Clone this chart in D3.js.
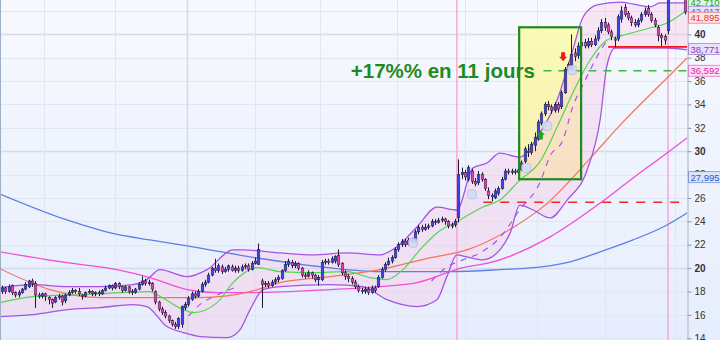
<!DOCTYPE html>
<html><head><meta charset="utf-8">
<script src="https://cdn.jsdelivr.net/npm/d3@7/dist/d3.min.js"></script>
<style>html,body{margin:0;padding:0;background:#fff;}svg{display:block}</style>
</head><body>
<svg id="chart" width="720" height="340"></svg>
<script>
// ---------- DATA ----------
const opens = [18.0,18.3,18.0,18.5,17.9,17.7,17.9,18.2,18.4,18.9,18.7,17.7,17.6,17.8,17.5,17.3,17.1,17.5,17.6,17.2,
17.7,17.9,18.1,18.0,17.7,17.6,17.9,18.0,17.8,17.9,17.8,18.1,18.3,18.5,18.3,18.7,18.4,18.1,18.4,18.0,
17.9,18.2,18.6,18.9,18.7,18.7,18.0,17.1,16.5,16.2,15.9,15.5,15.2,15.0,15.2,16.6,16.9,17.3,17.8,17.6,
18.0,18.6,18.8,19.4,20.0,19.8,20.1,19.7,19.9,20.1,19.8,20.0,19.8,20.1,20.2,19.9,20.4,20.3,18.9,18.6,
18.7,18.5,18.8,19.0,19.1,19.8,20.3,20.5,20.2,20.4,20.0,19.4,19.3,19.6,19.4,19.0,19.0,20.5,20.6,20.5,
20.6,21.1,20.4,19.6,19.3,19.1,18.8,18.4,18.1,18.0,18.2,17.9,18.3,18.4,19.2,19.9,20.3,20.6,20.9,21.6,
22.0,22.3,22.0,22.4,22.3,23.1,23.5,23.3,23.5,23.6,24.0,23.9,24.1,24.2,24.0,23.6,23.7,24.3,28.0,28.2,
27.6,28.3,27.4,27.3,28.0,27.6,26.6,26.2,26.0,26.4,26.8,27.6,28.3,28.2,28.3,28.2,28.4,29.1,30.0,29.9,
30.5,31.0,32.4,33.2,34.0,33.8,33.5,34.0,33.8,35.0,37.4,37.0,38.4,38.2,39.0,39.3,39.0,39.4,39.1,39.6,
40.3,41.0,40.8,40.2,39.6,39.6,41.3,42.3,41.8,41.4,41.0,40.8,41.2,41.7,42.2,41.7,41.2,40.6,39.9,39.8,
40.3,43.3,43.8,44.0,43.7,43.6];
const highs = [18.5,18.4,18.6,18.6,18.0,18.1,18.3,18.8,19.0,19.1,18.9,17.9,17.9,17.9,17.6,17.4,17.6,17.8,17.7,17.8,
18.1,18.3,18.2,18.3,17.8,18.0,18.2,18.1,18.0,18.1,18.2,18.5,18.6,18.6,18.8,18.8,18.5,18.5,18.5,18.2,
18.3,18.8,19.3,19.1,19.0,18.8,18.1,17.2,16.7,16.4,16.0,15.6,15.4,15.8,16.8,17.1,17.6,18.0,18.0,18.2,
18.8,19.0,19.6,20.1,20.8,20.4,20.3,20.1,20.3,20.3,20.2,20.2,20.3,20.4,20.4,20.6,20.9,22.1,19.1,18.9,
18.9,19.0,19.2,19.4,19.9,20.6,20.8,20.7,20.6,20.5,20.1,19.6,19.8,19.7,19.5,19.4,20.7,20.8,20.8,21.0,
21.1,21.6,20.5,19.8,19.5,19.3,19.0,18.6,18.3,18.4,18.4,18.5,18.5,19.4,20.1,20.5,20.9,21.1,21.8,22.2,
22.5,22.5,22.6,22.6,23.3,23.7,23.7,23.8,23.8,24.2,24.2,24.3,24.4,24.3,24.1,23.9,24.2,29.3,28.6,28.4,
28.8,28.5,27.7,28.3,28.2,27.7,26.9,26.4,26.8,27.0,27.8,28.5,28.5,28.5,28.5,28.6,29.2,30.4,30.6,30.8,
31.6,32.7,33.4,34.2,34.3,34.0,34.2,34.2,35.2,37.2,37.6,40.0,38.8,39.3,39.6,39.6,39.7,39.7,39.9,40.6,
41.3,41.4,41.0,40.4,39.8,41.7,42.4,42.6,42.0,41.6,41.3,41.4,41.9,42.3,42.5,41.9,41.4,40.8,40.1,40.0,
44.0,44.2,44.5,44.4,44.1,43.9];
const lows = [17.8,17.8,17.9,17.7,17.5,17.5,17.8,18.1,18.3,18.4,16.6,17.4,17.4,17.2,16.9,16.6,17.0,17.3,16.8,17.0,
17.6,17.8,17.8,17.6,17.3,17.5,17.8,17.6,17.6,17.6,17.7,18.0,18.2,18.1,18.2,18.2,17.9,18.0,17.8,17.7,
17.8,18.1,18.5,18.5,18.5,18.0,16.9,16.3,16.0,15.7,15.3,15.0,14.8,14.8,14.9,16.4,16.7,17.2,17.4,17.5,
17.9,18.4,18.7,19.3,19.6,19.6,19.5,19.6,19.7,19.7,19.6,19.6,19.7,19.9,19.7,19.8,20.3,20.3,16.6,18.4,
18.3,18.4,18.6,18.8,19.0,19.7,20.1,20.0,20.0,19.8,19.2,19.1,19.2,19.1,18.8,18.5,18.9,20.3,20.3,20.4,
20.4,20.1,19.4,19.0,18.8,18.6,18.2,17.9,17.8,17.8,17.7,17.8,17.9,18.3,19.1,19.7,20.2,20.4,20.8,21.4,
21.8,21.8,21.9,22.1,22.2,22.9,23.1,23.2,23.3,23.5,23.7,23.8,23.9,23.7,23.4,23.4,23.5,23.9,27.6,27.5,
27.4,27.2,27.0,27.1,27.4,26.6,25.9,25.7,25.9,26.2,26.7,27.5,28.0,28.0,28.0,28.1,28.3,28.9,29.5,29.7,
30.0,30.9,32.2,33.0,33.5,33.2,33.3,33.3,33.6,34.9,36.8,36.9,37.7,37.9,38.7,38.8,38.8,38.9,39.0,39.4,
40.1,40.3,40.0,39.5,38.9,39.4,41.0,41.5,41.2,40.7,40.6,40.6,41.0,41.5,41.5,41.0,40.6,39.4,39.0,39.1,
40.0,43.1,43.4,43.5,43.3,41.7];
const closes = [18.3,18.0,18.4,17.9,17.7,17.9,18.2,18.6,18.9,18.7,17.7,17.6,17.8,17.6,17.3,17.0,17.5,17.6,17.1,17.7,
17.9,18.1,18.0,17.8,17.6,17.9,18.0,17.8,17.9,17.8,18.1,18.3,18.5,18.3,18.7,18.4,18.1,18.4,18.0,17.9,
18.2,18.6,18.9,18.7,18.8,18.2,17.1,16.5,16.2,15.9,15.5,15.2,15.0,15.7,16.7,16.9,17.4,17.8,17.6,18.0,
18.6,18.8,19.4,20.0,19.8,20.2,19.7,19.9,20.2,19.8,20.0,19.8,20.1,20.2,19.9,20.4,20.6,21.6,18.6,18.7,
18.5,18.8,19.0,19.2,19.8,20.3,20.6,20.2,20.4,20.0,19.4,19.3,19.6,19.4,19.0,19.2,20.5,20.6,20.5,20.8,
21.0,20.3,19.6,19.3,19.1,18.8,18.4,18.1,18.0,18.2,17.9,18.3,18.1,19.2,19.9,20.3,20.6,20.9,21.6,22.0,
22.3,22.0,22.4,22.3,23.1,23.5,23.3,23.5,23.6,24.0,23.9,24.1,24.2,24.0,23.6,23.7,24.0,28.0,28.2,27.8,
28.6,27.4,27.2,28.0,27.6,26.8,26.2,26.1,26.6,26.8,27.6,28.3,28.2,28.3,28.2,28.4,29.0,30.2,29.9,30.6,
31.2,32.5,33.2,34.0,33.8,33.5,34.0,33.6,35.0,37.0,37.0,38.3,38.1,39.0,39.3,39.0,39.4,39.1,39.6,40.3,
41.0,40.6,40.2,39.8,39.5,41.5,42.0,41.7,41.4,41.0,40.8,41.2,41.7,42.0,41.7,41.2,40.8,39.9,39.7,39.5,
43.2,43.8,44.0,43.7,43.6,41.9];

// indicator lines: candle-index positions and values
const ma200Idx = [-0.6,19.5,33.9,44.4,55.6,74.5,95.5,113.5,134.5,149.5,162.5,170.6,179.6,189.5,199.7,205.7];
const ma200Val = [26.34,24.12,22.92,22.41,21.90,20.96,20.12,19.70,19.70,19.87,20.12,20.54,21.39,22.41,23.69,24.71];
const ma100Idx = [-0.6,19.5,34.5,44.4,55.6,64.6,74.5,98.5,113.5,124.6,138.4,146.5,164.6,179.6,189.5,199.7,205.7];
const ma100Val = [21.39,20.46,19.87,19.19,18.16,17.90,17.90,18.16,18.42,18.76,20.04,20.46,22.67,25.56,27.71,29.84,31.13];
const ma50Idx = [-0.6,14.4,29.4,44.4,59.5,74.5,83.5,98.5,113.5,128.5,139.6,154.7,163.1,177.5,185.6,199.7,205.7];
const ma50Val = [19.95,18.16,17.48,17.48,17.48,17.99,18.76,19.27,19.87,20.88,21.56,23.69,25.39,29.67,32.23,36.26,37.97];
const ma20Idx = [-0.6,9.3,24.3,44.4,46.5,54.4,57.4,64.6,69.4,76.6,83.5,93.4,103.6,110.5,115.6,120.4,125.5,130.6,137.5,144.4,149.5,155.5,161.5,166.7,171.4,176.6,181.7,185.6,194.6,199.7,205.7];
const ma20Val = [17.05,17.56,17.73,17.99,17.73,16.45,16.19,17.05,18.76,20.04,19.70,19.62,19.70,19.19,19.02,19.87,21.56,23.00,24.12,25.22,25.82,27.53,29.08,32.07,34.98,37.80,39.51,39.85,40.54,40.97,42.08];
const bbUpIdx = [-0.6,9.3,19.5,29.4,39.3,43.5,47.4,55.6,61.6,69.4,72.4,83.5,93.4,103.6,113.5,118.6,124.6,130.6,136.6,141.4,145.6,149.5,155.5,161.5,166.7,171.4,174.5,178.7,185.6,194.6,197.6,205.7];
const bbUpVal = [18.33,18.59,18.42,18.42,18.59,19.02,19.87,19.27,19.87,21.56,21.56,21.30,21.13,21.30,21.13,21.82,23.52,25.22,24.97,28.56,28.99,29.84,29.50,31.56,34.38,38.66,41.48,42.51,42.76,42.34,42.68,42.68];
const bbLoIdx = [-0.6,9.3,19.5,29.4,39.3,43.5,49.5,54.4,59.5,67.6,71.5,74.5,78.4,83.5,98.5,108.4,115.6,124.6,130.6,133.6,136.6,139.6,144.4,149.5,152.6,155.5,159.5,164.6,169.7,175.7,179.6,181.7,184.1,189.5,199.7,205.7];
const bbLoVal = [15.85,16.02,16.45,16.62,16.88,16.71,15.00,14.49,14.14,14.06,14.74,16.45,18.16,18.42,18.59,18.42,17.30,16.71,17.30,19.27,21.13,20.96,20.71,21.56,23.00,25.39,24.97,24.29,25.82,28.39,32.67,37.37,38.83,38.83,38.83,38.66];
// dashed purple trend segments
const trendAIdx = [56.0,59.5,64.6,70.5];
const trendAVal = [15.9,16.9,17.7,18.4];
const trendBIdx = [129.0,133.6,138.4,143.5,149.5,155.5,161.5,164.6,168.5,171.4,175.0,178.7,181.7];
const trendBVal = [18.9,20.1,20.7,21.3,22.6,25.0,27.3,29.6,31.0,33.8,36.0,38.1,39.5];

const yTicks = [14,16,18,20,22,24,26,28,30,32,34,36,38,40,42];
const yMajor = [20,30,40];
const monthIdx = [12.6,34.0,55.6,76.0,95.5,118.6,139.0,160.7,181.0,202.0];
const eventIdx = [136.6,200.0];

const gainText = "+17%% en 11 jours";
const boxRange = {from:155.3, to:173.9, top:40.6, bottom:27.6};
const greenLevel = 36.88;
const redLevel = 38.92;
const redDashLevel = 25.63;
const newsIdx = [123.4,141.1,157.4,163.7,171.2];
const newsVal = [22.15,26.32,28.56,32.15,36.94];
const upArrow = {i:161.8, v:31.0};
const downArrow = {i:168.5, v:37.7};

const priceTags = [
  {text:"27,995", at:27.78, color:"#2f55d4", fill:"#dce6fb"},
  {text:"36,592", at:36.88, color:"#e020b0", fill:"#fde1f4"},
  {text:"38,771", at:38.74, color:"#7d3fc4", fill:"#e9e1f9"},
  {text:"42,710", at:42.68, color:"#22a022", fill:"#e2f5e2"},
  {text:"42,017", at:41.92, color:"#6a5ad0", fill:"#e6e4fa"},
  {text:"41,895", at:41.42, color:"#e53535", fill:"#fde6e6"}
];

// ---------- CHART ----------
const W = 720, H = 340, plotR = 687;
const svg = d3.select("#chart");
const x = d3.scaleLinear().domain([-0.6, 205.7]).range([0, plotR]);
const y = d3.scaleLinear().domain([13.85, 42.934]).range([H, 0]);
const defs = svg.append("defs");
const bg = defs.append("linearGradient").attr("id","bg").attr("x1",0).attr("y1",0).attr("x2",0).attr("y2",1);
bg.append("stop").attr("offset","0%").attr("stop-color","#f7f9fe");
bg.append("stop").attr("offset","100%").attr("stop-color","#e6edfc");
const yb = defs.append("linearGradient").attr("id","yb").attr("x1",0).attr("y1",0).attr("x2",0).attr("y2",1);
yb.append("stop").attr("offset","0%").attr("stop-color","#fafab8");
yb.append("stop").attr("offset","100%").attr("stop-color","#f8f0b0");
defs.append("clipPath").attr("id","plot").append("rect").attr("x",0).attr("y",0).attr("width",plotR).attr("height",H);

svg.append("rect").attr("width",W).attr("height",H).attr("fill","url(#bg)");

const grid = svg.append("g");
grid.selectAll("line.h").data(yTicks).join("line")
  .attr("x1",0).attr("x2",plotR).attr("y1",d=>Math.round(y(d))+0.5).attr("y2",d=>Math.round(y(d))+0.5)
  .attr("stroke",d=>yMajor.includes(d)?"#d5dbe8":"#e1e6f1").attr("stroke-width",d=>yMajor.includes(d)?1.6:1);
grid.selectAll("line.v").data(monthIdx).join("line")
  .attr("y1",0).attr("y2",H).attr("x1",d=>Math.round(x(d))+0.5).attr("x2",d=>Math.round(x(d))+0.5)
  .attr("stroke",(d,k)=>k===2?"#d3d9e6":"#e2e6f1").attr("stroke-width",(d,k)=>k===2?1.5:1);

const plot = svg.append("g").attr("clip-path","url(#plot)");

// yellow box fill
plot.append("rect").attr("x",x(boxRange.from)).attr("y",y(boxRange.top))
  .attr("width",x(boxRange.to)-x(boxRange.from)).attr("height",y(boxRange.bottom)-y(boxRange.top))
  .attr("fill","url(#yb)");

const lineGen = d3.line().curve(d3.curveMonotoneX);
const pts = (idx, vals) => idx.map((d,k)=>[x(d), y(vals[k])]);

// Bollinger fill
const upPath = lineGen(pts(bbUpIdx,bbUpVal));
const loPath = lineGen(pts(bbLoIdx,bbLoVal).reverse());
plot.append("path").attr("d", upPath + loPath.replace(/^M/,"L") + "Z")
  .attr("fill","#f6c6e6").attr("fill-opacity",0.38);

// event lines
plot.selectAll("line.ev").data(eventIdx).join("line")
  .attr("x1",d=>x(d)).attr("x2",d=>x(d)).attr("y1",0).attr("y2",H)
  .attr("stroke","#f5a3d6").attr("stroke-width",1.4);

function drawLine(idx, vals, color, w, dash){
  const p = plot.append("path").attr("d", lineGen(pts(idx,vals)))
    .attr("fill","none").attr("stroke",color).attr("stroke-width",w);
  if (dash) p.attr("stroke-dasharray",dash);
}
drawLine(ma200Idx, ma200Val, "#5b7fe6", 1.3);
drawLine(ma100Idx, ma100Val, "#f24fd2", 1.3);
drawLine(ma50Idx, ma50Val, "#f4725f", 1.2);
drawLine(bbUpIdx, bbUpVal, "#a654e4", 1.3);
drawLine(bbLoIdx, bbLoVal, "#a654e4", 1.3);
drawLine(trendAIdx, trendAVal, "#a654e4", 1.2, "6,6");
drawLine(trendBIdx, trendBVal, "#a654e4", 1.2, "6,6");
drawLine(ma20Idx, ma20Val, "#4fd84a", 1.2);

// horizontal levels
plot.append("line").attr("x1",x(144.5)).attr("x2",plotR).attr("y1",y(redDashLevel)).attr("y2",y(redDashLevel))
  .attr("stroke","#ee2a2a").attr("stroke-width",1.6).attr("stroke-dasharray","9,8");
plot.append("line").attr("x1",x(162.6)).attr("x2",plotR).attr("y1",y(greenLevel)).attr("y2",y(greenLevel))
  .attr("stroke","#3cb83c").attr("stroke-width",1.4).attr("stroke-dasharray","8,7");
plot.append("line").attr("x1",x(182.0)).attr("x2",plotR).attr("y1",y(redLevel)).attr("y2",y(redLevel))
  .attr("stroke","#f01818").attr("stroke-width",1.8);

// candles
const candles = d3.range(opens.length).map(i=>({i,o:opens[i],h:highs[i],l:lows[i],c:closes[i]}));
const cg = plot.append("g");
cg.selectAll("line").data(candles).join("line")
  .attr("x1",d=>Math.round(x(d.i))+0.5).attr("x2",d=>Math.round(x(d.i))+0.5)
  .attr("y1",d=>y(d.h)).attr("y2",d=>y(d.l)).attr("stroke","#1a1a2a").attr("stroke-width",1);
cg.selectAll("rect").data(candles).join("rect")
  .attr("x",d=>Math.round(x(d.i))-0.8).attr("width",2.6)
  .attr("y",d=>y(Math.max(d.o,d.c))).attr("height",d=>Math.max(1.2,Math.abs(y(d.o)-y(d.c))))
  .attr("fill",d=>d.c>=d.o?"#3b45e6":"#e63fb3").attr("stroke","#222238").attr("stroke-width",0.5);

// news icons
plot.selectAll("rect.news").data(newsIdx).join("rect")
  .attr("x",(d)=>x(d)-4.5).attr("y",(d,k)=>y(newsVal[k])-4.5).attr("width",9).attr("height",9).attr("rx",3)
  .attr("fill","#cfdcf8").attr("stroke","#a9bde9").attr("stroke-width",0.8).attr("opacity",0.9);

// arrows
function arrow(cx, tipY, dir, color){
  const s = dir; // -1 up, 1 down
  const p = d3.path();
  p.moveTo(cx, tipY); p.lineTo(cx-4, tipY - s*4.5); p.lineTo(cx-2, tipY - s*4.5);
  p.lineTo(cx-2, tipY - s*9); p.lineTo(cx+2, tipY - s*9); p.lineTo(cx+2, tipY - s*4.5);
  p.lineTo(cx+4, tipY - s*4.5); p.closePath();
  plot.append("path").attr("d",p.toString()).attr("fill",color);
}
arrow(x(upArrow.i), y(upArrow.v)-9, -1, "#1ea51e");
arrow(x(downArrow.i), y(downArrow.v), 1, "#e81e1e");

// box border
plot.append("rect").attr("x",x(boxRange.from)).attr("y",y(boxRange.top))
  .attr("width",x(boxRange.to)-x(boxRange.from)).attr("height",y(boxRange.bottom)-y(boxRange.top))
  .attr("fill","none").attr("stroke","#1d8a1d").attr("stroke-width",2.2);

// annotation text
svg.append("text").attr("x",x(160.0)).attr("y",y(greenLevel)+7)
  .attr("text-anchor","end").attr("font-family","'Liberation Sans',Arial,sans-serif")
  .attr("font-weight","bold").attr("font-size",20.5).attr("fill","#1f8a1f").text(gainText);

// left border
svg.append("line").attr("x1",0.5).attr("x2",0.5).attr("y1",0).attr("y2",H).attr("stroke","#9fb0c4");

// right axis
const axis = d3.axisRight(y).tickValues(yTicks).tickSize(4).tickPadding(3).tickFormat(d3.format("d"));
const ag = svg.append("g").attr("transform",`translate(${plotR+0.5},0)`).call(axis);
ag.select(".domain").attr("stroke","#a9b5c8");
ag.selectAll(".tick line").attr("stroke","#8d99ad");
ag.selectAll(".tick text").attr("font-family","'Liberation Sans',Arial,sans-serif").attr("font-size",10)
  .attr("fill","#333").attr("font-weight",d=>yMajor.includes(d)?"bold":"normal");

// price tags
const tg = svg.append("g");
priceTags.forEach(t=>{
  const cy = y(t.at);
  tg.append("rect").attr("x",688.5).attr("y",cy-5.5).attr("width",34).attr("height",11)
    .attr("fill",t.fill).attr("stroke",t.color).attr("stroke-opacity",0.6).attr("stroke-width",0.8);
  tg.append("text").attr("x",690.5).attr("y",cy+3.5).attr("font-family","'Liberation Sans',Arial,sans-serif")
    .attr("font-size",9.5).attr("fill",t.color).text(t.text);
});
</script>
</body></html>
